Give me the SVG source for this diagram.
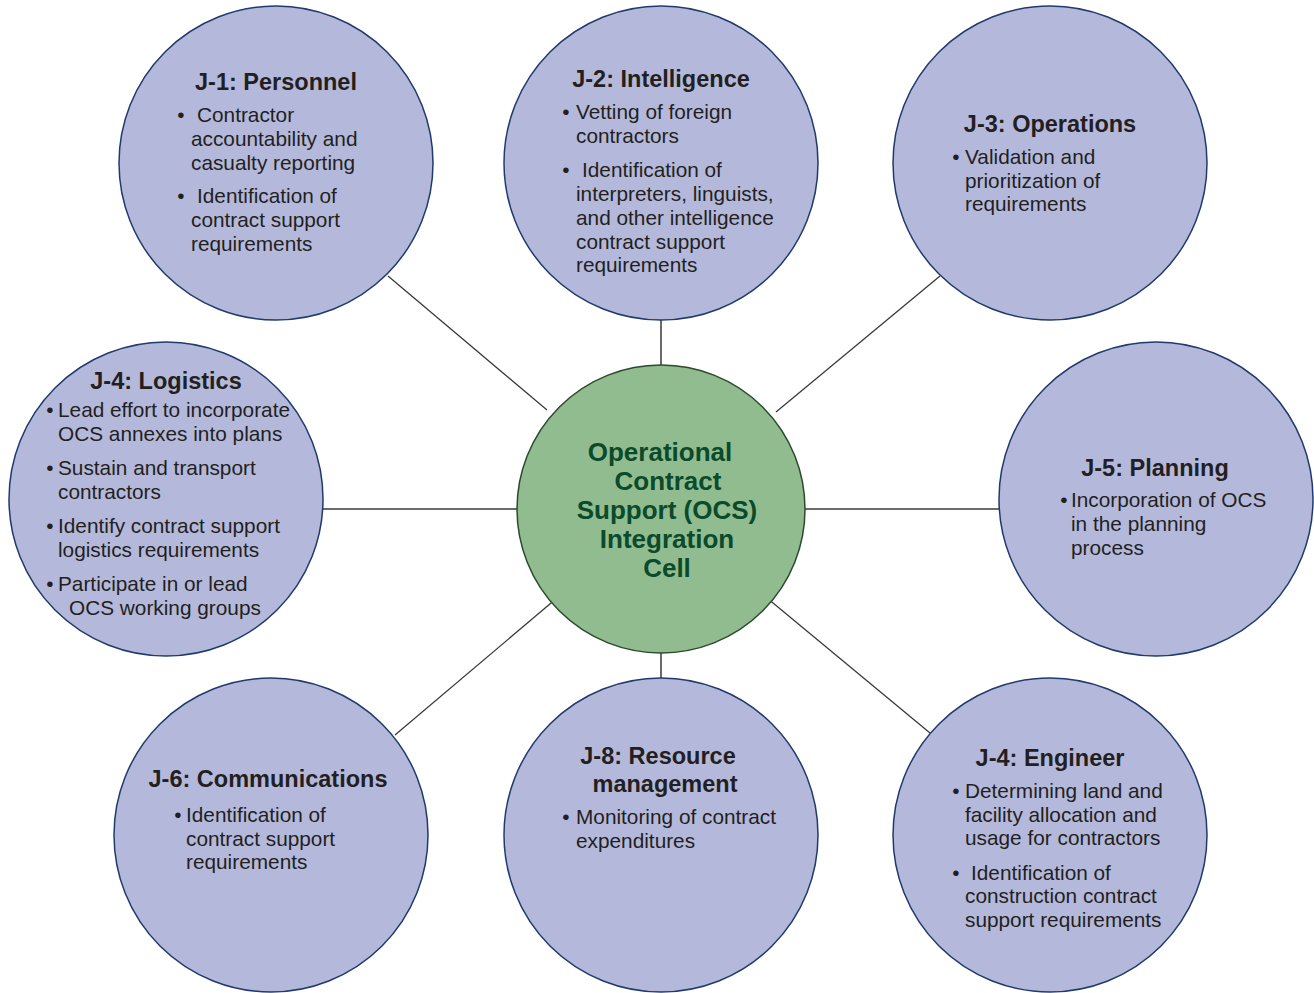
<svg xmlns="http://www.w3.org/2000/svg" width="1314" height="993" viewBox="0 0 1314 993">
<style>
.node{fill:#b4b9dc;stroke:#1f3a6b;stroke-width:1.5}
.hub{fill:#91bc8f;stroke:#2b4a2e;stroke-width:1.5}
.ln{stroke:#3a3a3a;stroke-width:1.3;fill:none}
.lv{stroke:#6a6a6a;stroke-width:2;fill:none}
text{font-family:"Liberation Sans",Arial,Helvetica,sans-serif;fill:#231f20}
.t{font-size:23.5px;font-weight:bold;text-anchor:middle}
.b{font-size:20.8px}
.d{font-size:20.8px;text-anchor:middle}
.h{font-size:26px;font-weight:bold;text-anchor:middle;fill:#0b4a2a}
</style>
<rect width="1314" height="993" fill="#ffffff"/>
<g id="connectors">
<line class="ln" x1="388" y1="276" x2="547" y2="410"/>
<line class="lv" x1="661" y1="320" x2="661" y2="366"/>
<line class="ln" x1="940" y1="276" x2="776" y2="412"/>
<line class="ln" x1="323" y1="509" x2="517" y2="509"/>
<line class="ln" x1="805" y1="509" x2="999" y2="509"/>
<line class="ln" x1="395" y1="735" x2="557" y2="598"/>
<line class="lv" x1="661" y1="652" x2="661" y2="678"/>
<line class="ln" x1="930" y1="733" x2="767" y2="598"/>
</g>
<g id="hub">
<circle class="hub" cx="661" cy="509" r="144"/>
<text class="h" x="660" y="461">Operational</text>
<text class="h" x="668" y="490">Contract</text>
<text class="h" x="667" y="519">Support (OCS)</text>
<text class="h" x="667" y="548">Integration</text>
<text class="h" x="667" y="577">Cell</text>
</g>
<g id="j1">
<circle class="node" cx="276" cy="163" r="157"/>
<text class="t" x="276" y="90">J-1: Personnel</text>
<text class="d" x="181" y="122">•</text>
<text class="b" x="197" y="122">Contractor</text>
<text class="b" x="191" y="146">accountability and</text>
<text class="b" x="191" y="170">casualty reporting</text>
<text class="d" x="181" y="203">•</text>
<text class="b" x="197" y="203">Identification of</text>
<text class="b" x="191" y="227">contract support</text>
<text class="b" x="191" y="251">requirements</text>
</g>
<g id="j2">
<circle class="node" cx="661" cy="163" r="157"/>
<text class="t" x="661" y="87">J-2: Intelligence</text>
<text class="d" x="566" y="119">•</text>
<text class="b" x="576" y="119">Vetting of foreign</text>
<text class="b" x="576" y="143">contractors</text>
<text class="d" x="566" y="177">•</text>
<text class="b" x="582" y="177">Identification of</text>
<text class="b" x="576" y="201">interpreters, linguists,</text>
<text class="b" x="576" y="225">and other intelligence</text>
<text class="b" x="576" y="249">contract support</text>
<text class="b" x="576" y="272">requirements</text>
</g>
<g id="j3">
<circle class="node" cx="1050" cy="163" r="157"/>
<text class="t" x="1050" y="132">J-3: Operations</text>
<text class="d" x="956" y="164">•</text>
<text class="b" x="965" y="164">Validation and</text>
<text class="b" x="965" y="188">prioritization of</text>
<text class="b" x="965" y="211">requirements</text>
</g>
<g id="j4-logistics">
<circle class="node" cx="166" cy="499" r="157"/>
<text class="t" x="166" y="389">J-4: Logistics</text>
<text class="d" x="50" y="417">•</text>
<text class="b" x="58" y="417">Lead effort to incorporate</text>
<text class="b" x="58" y="441">OCS annexes into plans</text>
<text class="d" x="50" y="475">•</text>
<text class="b" x="58" y="475">Sustain and transport</text>
<text class="b" x="58" y="499">contractors</text>
<text class="d" x="50" y="533">•</text>
<text class="b" x="58" y="533">Identify contract support</text>
<text class="b" x="58" y="557">logistics requirements</text>
<text class="d" x="50" y="591">•</text>
<text class="b" x="58" y="591">Participate in or lead</text>
<text class="b" x="69" y="615">OCS working groups</text>
</g>
<g id="j5">
<circle class="node" cx="1156" cy="499" r="157"/>
<text class="t" x="1155" y="476">J-5: Planning</text>
<text class="d" x="1064" y="507">•</text>
<text class="b" x="1071" y="507">Incorporation of OCS</text>
<text class="b" x="1071" y="531">in the planning</text>
<text class="b" x="1071" y="555">process</text>
</g>
<g id="j6">
<circle class="node" cx="271" cy="835" r="157"/>
<text class="t" x="268" y="787">J-6: Communications</text>
<text class="d" x="178" y="822">•</text>
<text class="b" x="186" y="822">Identification of</text>
<text class="b" x="186" y="846">contract support</text>
<text class="b" x="186" y="869">requirements</text>
</g>
<g id="j8">
<circle class="node" cx="661" cy="835" r="157"/>
<text class="t" x="658" y="764">J-8: Resource</text>
<text class="t" x="665" y="792">management</text>
<text class="d" x="566" y="824">•</text>
<text class="b" x="576" y="824">Monitoring of contract</text>
<text class="b" x="576" y="848">expenditures</text>
</g>
<g id="j4-engineer">
<circle class="node" cx="1050" cy="835" r="157"/>
<text class="t" x="1050" y="766">J-4: Engineer</text>
<text class="d" x="956" y="798">•</text>
<text class="b" x="965" y="798">Determining land and</text>
<text class="b" x="965" y="822">facility allocation and</text>
<text class="b" x="965" y="845">usage for contractors</text>
<text class="d" x="956" y="880">•</text>
<text class="b" x="971" y="880">Identification of</text>
<text class="b" x="965" y="903">construction contract</text>
<text class="b" x="965" y="927">support requirements</text>
</g>
</svg>
